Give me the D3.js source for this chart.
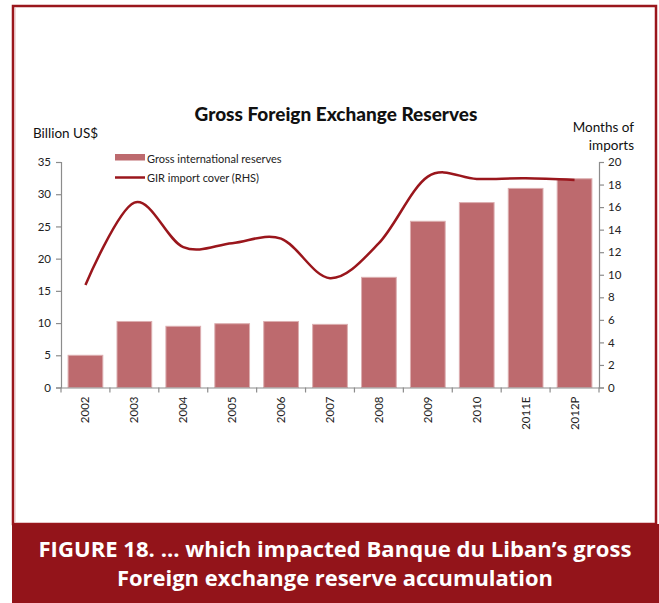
<!DOCTYPE html>
<html>
<head>
<meta charset="utf-8">
<script src="https://cdn.jsdelivr.net/npm/d3@7"></script>
<style>
  html, body { margin: 0; padding: 0; background: #fff; }
  svg { display: block; }
</style>
</head>
<body>
<svg id="chart" width="659" height="603"></svg>
<script>
// Gross international reserves (billion US$) and import cover (months)
const years = ["2002", "2003", "2004", "2005", "2006", "2007", "2008", "2009", "2010", "2011E", "2012P"];
const reserves = [5.0, 10.25, 9.5, 9.9, 10.25, 9.8, 17.1, 25.8, 28.7, 30.9, 32.4];
const importCover = [9.1, 16.4, 12.45, 12.8, 13.2, 9.7, 12.8, 18.7, 18.5, 18.55, 18.4];
const leftTicks = [0, 5, 10, 15, 20, 25, 30, 35];
const rightTicks = [0, 2, 4, 6, 8, 10, 12, 14, 16, 18, 20];

const svg = d3.select("#chart");
const red = "#9a161c";
const barFill = "#bd6a6e";
const axisGrey = "#8c8c8c";
const font = "Lato, 'Open Sans', sans-serif";

// frame and caption band
svg.append("rect").attr("x", 13).attr("y", 6).attr("width", 643).attr("height", 518)
  .attr("fill", "#fff").attr("stroke", red).attr("stroke-width", 2.5);
svg.append("line").attr("x1", 15).attr("x2", 15).attr("y1", 8).attr("y2", 522)
  .attr("stroke", "#e2b5b6").attr("stroke-width", 1);
svg.append("rect").attr("x", 12).attr("y", 524).attr("width", 647).attr("height", 79)
  .attr("fill", "#93141a");

const captionLines = ["FIGURE 18. ... which impacted Banque du Liban\u2019s gross",
                      "Foreign exchange reserve accumulation"];
const captionWidths = [593, 436];
svg.selectAll("text.caption").data(captionLines).join("text")
  .attr("class", "caption")
  .attr("x", 335).attr("y", (d, i) => 557 + i * 29)
  .attr("text-anchor", "middle")
  .attr("fill", "#fff").attr("font-family", "'Open Sans', sans-serif")
  .attr("font-weight", 700).attr("font-size", 21)
  .attr("textLength", (d, i) => captionWidths[i])
  .attr("lengthAdjust", "spacingAndGlyphs")
  .text(d => d);

// plot area
const x0 = 61, x1 = 599, yTop = 162, yBot = 387.5;
const x = d3.scaleBand().domain(years).range([x0, x1]).paddingInner(0.29).paddingOuter(0.145);
const xc = d3.scaleBand().domain(years).range([x0, x1]);
const yL = d3.scaleLinear().domain([0, 35]).range([yBot, yTop]);
const yR = d3.scaleLinear().domain([0, 20]).range([yBot, yTop]);

// bars
svg.append("g").selectAll("rect").data(years).join("rect")
  .attr("x", d => x(d))
  .attr("y", (d, i) => yL(reserves[i]))
  .attr("width", x.bandwidth())
  .attr("height", (d, i) => yBot - yL(reserves[i]))
  .attr("fill", barFill)
  .attr("stroke", "#dcaeb0").attr("stroke-width", 1);

// axes
function styleAxis(g) {
  g.selectAll("path, line").attr("stroke", axisGrey).attr("stroke-width", 1.2);
  g.selectAll("text").attr("font-family", font).attr("font-size", 11.5).attr("fill", "#222");
}
const leftAxis = svg.append("g").attr("transform", `translate(${x0},0)`)
  .call(d3.axisLeft(yL).tickValues(leftTicks).tickSize(5).tickSizeOuter(5).tickPadding(5));
styleAxis(leftAxis);

const rightAxis = svg.append("g").attr("transform", `translate(${x1},0)`)
  .call(d3.axisRight(yR).tickValues(rightTicks).tickSize(5).tickSizeOuter(5).tickPadding(4));
styleAxis(rightAxis);

const bottomAxis = svg.append("g").attr("transform", `translate(0,${yBot})`)
  .call(d3.axisBottom(xc).tickSize(0).tickSizeOuter(0));
styleAxis(bottomAxis);
// each tick group is already centred on its band; rotate the label upward
bottomAxis.selectAll(".tick text")
  .attr("x", 0).attr("y", 0).attr("dy", "0.35em")
  .attr("text-anchor", "end")
  .attr("transform", "translate(0,9) rotate(-90)");
// category boundary ticks on the base line
bottomAxis.selectAll("line.sep").data(d3.range(years.length + 1)).join("line")
  .attr("class", "sep")
  .attr("x1", i => x0 + i * xc.step()).attr("x2", i => x0 + i * xc.step())
  .attr("y1", 0).attr("y2", 5)
  .attr("stroke", axisGrey).attr("stroke-width", 1.2);

// import cover line
const line = d3.line()
  .x((d, i) => xc(years[i]) + xc.bandwidth() / 2)
  .y(d => yR(d))
  .curve(d3.curveCardinal.tension(0));
svg.append("path").datum(importCover)
  .attr("d", line)
  .attr("fill", "none").attr("stroke", red).attr("stroke-width", 2.5);

// titles
svg.append("text").attr("x", 336).attr("y", 121).attr("text-anchor", "middle")
  .attr("font-family", font).attr("font-weight", 900).attr("font-size", 19)
  .attr("fill", "#111").text("Gross Foreign Exchange Reserves");
svg.append("text").attr("x", 33).attr("y", 138)
  .attr("font-family", font).attr("font-size", 13.5).attr("fill", "#111").text("Billion US$");
svg.append("text").attr("x", 634).attr("y", 132).attr("text-anchor", "end")
  .attr("font-family", font).attr("font-size", 13.5).attr("fill", "#111").text("Months of");
svg.append("text").attr("x", 634).attr("y", 150).attr("text-anchor", "end")
  .attr("font-family", font).attr("font-size", 13.5).attr("fill", "#111").text("imports");

// legend
const legend = svg.append("g");
legend.append("rect").attr("x", 115).attr("y", 154).attr("width", 30).attr("height", 6.5)
  .attr("fill", barFill);
legend.append("text").attr("x", 147).attr("y", 163)
  .attr("font-family", font).attr("font-size", 11).attr("fill", "#222")
  .text("Gross international reserves");
legend.append("line").attr("x1", 115).attr("x2", 145).attr("y1", 177.5).attr("y2", 177.5)
  .attr("stroke", red).attr("stroke-width", 2.5);
legend.append("text").attr("x", 147).attr("y", 182)
  .attr("font-family", font).attr("font-size", 11).attr("fill", "#222")
  .text("GIR import cover (RHS)");
</script>
</body>
</html>
